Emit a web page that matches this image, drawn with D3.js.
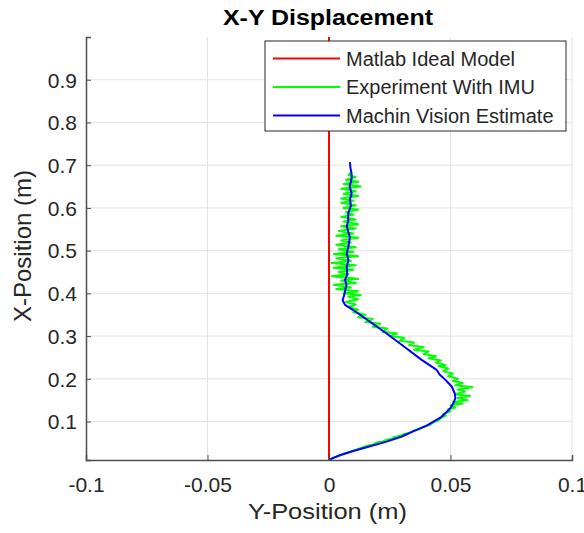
<!DOCTYPE html>
<html>
<head>
<meta charset="utf-8">
<script src="https://cdn.jsdelivr.net/npm/d3@7"></script>
<style>
  body { margin: 0; background: #fff; }
  svg text { font-family: "Liberation Sans", Arial, sans-serif; fill: #262626; }
</style>
</head>
<body>
<div class="chart"></div>
<script>
// horizontal axis = Y-Position, vertical axis = X-Position
const xTicks = [-0.1, -0.05, 0, 0.05, 0.1]
const yTicks = [0.1, 0.2, 0.3, 0.4, 0.5, 0.6, 0.7, 0.8, 0.9]

const idealY = [0, 0]
const idealX = [0.01, 1.0]

const visionY = [0.000, 0.0045, 0.010, 0.0155, 0.0237, 0.030, 0.0346, 0.040, 0.043, 0.046, 0.048, 0.050, 0.0512, 0.052, 0.0518, 0.0505, 0.048, 0.0455, 0.0443,
  0.038, 0.031, 0.024, 0.017, 0.010, 0.0066, 0.0056, 0.0062, 0.0066, 0.0072, 0.0066, 0.0075, 0.0073, 0.0080, 0.0073, 0.0080, 0.0086, 0.0073, 0.0079, 0.0079,
  0.0090, 0.0086, 0.0093, 0.0085, 0.0093, 0.0093, 0.0088, 0.0086]
const visionX = [0.011, 0.021, 0.031, 0.040, 0.053, 0.065, 0.077, 0.090, 0.100, 0.110, 0.120, 0.132, 0.143, 0.155, 0.165, 0.182, 0.197, 0.210, 0.221,
  0.245, 0.275, 0.305, 0.333, 0.361, 0.373, 0.384, 0.395, 0.405, 0.420, 0.431, 0.445, 0.462, 0.478, 0.493, 0.510, 0.532, 0.556, 0.570, 0.587,
  0.605, 0.620, 0.634, 0.650, 0.668, 0.680, 0.695, 0.707]

const imuY = [0.000, 0.003, 0.006, 0.009, 0.012, 0.014, 0.016, 0.018, 0.020, 0.022, 0.024, 0.026, 0.027, 0.029, 0.031, 0.033, 0.035, 0.037, 0.039, 0.041,
  0.043, 0.045, 0.046, 0.048, 0.047, 0.050, 0.049, 0.052, 0.050, 0.055, 0.051, 0.057, 0.053, 0.058, 0.052, 0.056, 0.053, 0.059, 0.052, 0.055,
  0.051, 0.053, 0.049, 0.051, 0.047, 0.049, 0.045, 0.048, 0.044, 0.046, 0.041, 0.044, 0.039, 0.041, 0.035, 0.039, 0.033, 0.035, 0.029, 0.031,
  0.025, 0.028, 0.022, 0.024, 0.018, 0.021, 0.015, 0.018, 0.012, 0.015, 0.010, 0.012, 0.008, 0.011, 0.007, 0.012, 0.008, 0.013, 0.006, 0.012,
  0.003, 0.009, 0.002, 0.011, 0.005, 0.012, 0.001, 0.008, 0.004, 0.010, 0.002, 0.011, 0.001, 0.009, 0.003, 0.012, 0.002, 0.010, 0.004, 0.011,
  0.003, 0.009, 0.005, 0.012, 0.003, 0.010, 0.004, 0.011, 0.005, 0.012, 0.006, 0.011, 0.005, 0.010, 0.007, 0.012, 0.006, 0.011, 0.005, 0.010,
  0.005, 0.012, 0.006, 0.011, 0.005, 0.013, 0.006, 0.012, 0.007, 0.011, 0.008, 0.009]
const imuX = [0.010, 0.018, 0.025, 0.030, 0.036, 0.040, 0.044, 0.046, 0.052, 0.053, 0.058, 0.060, 0.064, 0.066, 0.071, 0.073, 0.079, 0.082, 0.088, 0.091,
  0.098, 0.103, 0.108, 0.114, 0.118, 0.124, 0.128, 0.133, 0.138, 0.142, 0.146, 0.150, 0.155, 0.160, 0.164, 0.170, 0.175, 0.180, 0.185, 0.190,
  0.195, 0.200, 0.206, 0.212, 0.218, 0.224, 0.230, 0.232, 0.238, 0.243, 0.248, 0.253, 0.258, 0.264, 0.268, 0.274, 0.279, 0.285, 0.289, 0.296,
  0.300, 0.306, 0.310, 0.318, 0.322, 0.329, 0.333, 0.340, 0.344, 0.350, 0.356, 0.362, 0.368, 0.374, 0.380, 0.386, 0.392, 0.396, 0.400, 0.405,
  0.410, 0.414, 0.420, 0.424, 0.430, 0.434, 0.440, 0.445, 0.450, 0.455, 0.460, 0.466, 0.471, 0.476, 0.482, 0.487, 0.492, 0.497, 0.503, 0.508,
  0.514, 0.519, 0.524, 0.530, 0.535, 0.540, 0.546, 0.552, 0.557, 0.562, 0.568, 0.573, 0.579, 0.584, 0.590, 0.596, 0.600, 0.606, 0.612, 0.617,
  0.622, 0.628, 0.633, 0.639, 0.645, 0.650, 0.656, 0.661, 0.666, 0.672, 0.677, 0.683, 0.688, 0.694, 0.699, 0.704, 0.709, 0.712]

const series = [
  {name: "Matlab Ideal Model", color: "#ff0000", ys: idealY, xs: idealX},
  {name: "Experiment With IMU", color: "#00ff00", ys: imuY, xs: imuX},
  {name: "Machin Vision Estimate", color: "#0000ff", ys: visionY, xs: visionX},
]

const width = 584, height = 533
const mLeft = 86, mRight = 572, mTop = 37, mBottom = 460

const svg = d3.select(".chart").append("svg")
  .attr("width", width).attr("height", height)

const x = d3.scaleLinear().domain([-0.1, 0.1]).range([mLeft, mRight])
const y = d3.scaleLinear().domain([0.01, 1.0]).range([mBottom, mTop])

// grid
svg.append("g").selectAll("line").data(xTicks.slice(1)).enter().append("line")
  .attr("x1", d => x(d)).attr("x2", d => x(d)).attr("y1", mTop).attr("y2", mBottom)
  .attr("stroke", "#e3e3e3").attr("stroke-width", 1)
svg.append("g").selectAll("line").data(yTicks).enter().append("line")
  .attr("x1", mLeft).attr("x2", mRight).attr("y1", d => y(d)).attr("y2", d => y(d))
  .attr("stroke", "#e3e3e3").attr("stroke-width", 1)

// series
const line = d3.line()
series.forEach(s => {
  const pts = s.ys.map((v, i) => [x(v), y(s.xs[i])])
  svg.append("path").datum(pts)
    .attr("d", line)
    .attr("fill", "none")
    .attr("stroke", s.color)
    .attr("stroke-width", 2)
    .attr("stroke-linejoin", "round")
})

// axes
const xAxis = svg.append("g").attr("transform", `translate(0,${mBottom})`)
  .call(d3.axisBottom(x).tickValues(xTicks).tickSize(-5).tickPadding(17).tickFormat(d => String(d)))
const yAxis = svg.append("g").attr("transform", `translate(${mLeft},0)`)
  .call(d3.axisLeft(y).tickValues(yTicks).tickSize(-5).tickPadding(9).tickFormat(d3.format(".1f")))
;[xAxis, yAxis].forEach(a => {
  a.select(".domain").attr("stroke", "#4d4d4d").attr("stroke-width", 1.5)
  a.selectAll(".tick line").attr("stroke", "#4d4d4d")
  a.selectAll(".tick text").style("font-size", "21px").attr("fill", "#262626")
})
xAxis.selectAll(".tick text").attr("dy", "0.71em")
yAxis.selectAll(".tick text").attr("dy", "0.35em")

// labels
svg.append("text").attr("x", 223).attr("y", 25)
  .attr("textLength", 210).attr("lengthAdjust", "spacingAndGlyphs")
  .style("font-size", "22px").style("font-weight", "bold").style("fill", "#000")
  .text("X-Y Displacement")
svg.append("text").attr("x", 248).attr("y", 519)
  .attr("textLength", 159).attr("lengthAdjust", "spacingAndGlyphs")
  .style("font-size", "22px").text("Y-Position (m)")
svg.append("text").attr("transform", "translate(31,246) rotate(-90)")
  .attr("text-anchor", "middle").style("font-size", "24px").text("X-Position (m)")

// legend
const lg = svg.append("g").attr("transform", "translate(265,41)")
lg.append("rect").attr("width", 301).attr("height", 90)
  .attr("fill", "#fff").attr("stroke", "#262626").attr("stroke-width", 1)
series.forEach((s, i) => {
  const ly = 17.5 + i * 28.5
  lg.append("line").attr("x1", 8).attr("x2", 75).attr("y1", ly).attr("y2", ly)
    .attr("stroke", s.color).attr("stroke-width", 2)
  lg.append("text").attr("x", 81).attr("y", ly).attr("dy", "0.35em")
    .style("font-size", "20px").text(s.name)
})
</script>
</body>
</html>
